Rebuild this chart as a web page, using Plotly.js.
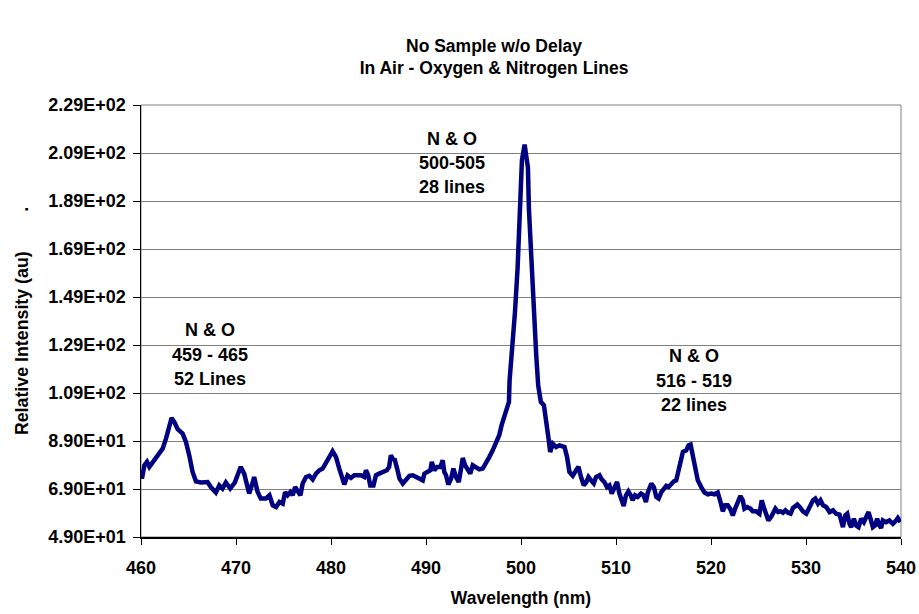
<!DOCTYPE html>
<html>
<head>
<meta charset="utf-8">
<script src="https://cdn.plot.ly/plotly-3.0.1.min.js"></script>
<style>html,body{margin:0;padding:0;background:#fff;}#chart{width:919px;height:614px;}</style>
</head>
<body>
<div id="chart"></div>
<script>
// Wavelength (nm)
const wavelength = [
460.00,460.10,460.36,460.63,460.88,461.23,461.58,461.93,462.28,462.63,462.98,463.22,463.51,463.86,464.38,464.73,465.08,465.43,465.78,466.30,
467.01,467.35,467.88,468.24,468.58,468.93,469.39,469.87,470.16,470.50,470.86,471.21,471.39,471.73,471.91,472.26,472.61,473.13,
473.52,473.87,474.22,474.57,474.92,475.17,475.44,475.72,475.97,476.22,476.49,476.78,477.02,477.37,477.72,478.07,478.42,478.77,479.12,479.47,479.82,480.17,
480.53,480.87,481.22,481.40,481.74,482.10,482.45,482.79,483.15,483.50,483.68,483.92,484.13,484.47,484.73,485.07,485.53,485.88,486.12,486.30,486.58,
486.68,486.96,487.21,487.56,487.91,488.26,488.61,488.96,489.31,489.66,489.83,490.19,490.46,490.61,490.88,491.17,491.51,491.76,491.93,492.11,492.35,492.64,
492.88,493.16,493.45,493.69,493.87,494.11,494.39,494.66,494.92,495.26,495.61,495.97,496.31,496.66,497.02,497.36,497.71,497.96,498.24,498.52,
498.73,498.80,499.12,499.36,499.64,499.88,500.10,500.38,500.73,500.83,501.07,501.32,501.60,501.81,502.09,502.41,502.65,502.90,503.07,503.35,503.70,504.06,
504.58,504.85,505.10,505.45,505.80,506.05,506.32,506.61,506.85,507.10,507.37,507.66,507.90,508.26,508.50,508.78,509.05,509.31,509.55,509.83,510.11,510.36,
510.60,510.81,511.05,511.30,511.58,511.75,512.00,512.28,512.63,512.91,513.15,
513.36,513.72,513.99,514.24,514.49,514.77,515.04,515.29,515.54,515.82,516.09,516.34,516.59,516.80,517.04,517.39,517.64,517.85,518.09,518.34,518.61,518.97,
519.32,519.66,520.02,520.37,520.71,521.00,521.24,521.49,521.76,522.05,522.29,522.54,522.82,523.10,523.34,523.52,523.80,524.15,524.39,524.75,525.10,525.34,
525.55,525.80,526.04,526.32,526.60,
526.78,527.06,527.33,527.58,527.83,528.11,528.38,528.63,528.88,529.09,529.33,529.68,530.03,530.38,530.74,530.98,531.26,531.53,531.79,532.13,532.48,532.84,
533.18,533.53,533.71,533.89,534.13,534.34,534.58,534.76,535.04,535.28,535.53,535.81,536.09,536.33,536.58,536.79,537.04,537.28,537.49,537.73,537.91,538.09,
538.43,538.78,539.14,539.48,539.66,539.94
];
// Relative intensity (au)
const intensity = [
75.4,73.3,78.9,80.3,78.2,80.3,81.7,84.4,85.8,90.0,95.6,98.6,96.9,93.9,92.1,88.6,83.0,76.1,72.2,71.7,
71.9,69.8,67.5,70.5,69.2,71.7,69.2,71.7,74.7,78.2,75.4,70.5,67.1,71.3,74.0,68.0,65.0,65.0,
66.4,62.2,61.5,63.6,62.9,67.7,66.4,67.7,66.4,69.8,68.4,66.4,71.3,74.0,74.5,73.0,75.4,76.8,77.5,79.6,82.3,84.7,
82.3,77.5,72.6,70.9,74.7,73.6,74.7,74.5,74.7,74.0,76.8,74.7,70.5,70.5,74.7,75.4,76.1,76.8,78.2,83.0,81.0,
81.7,77.5,73.3,71.3,72.6,74.5,74.7,74.0,73.6,72.6,75.4,76.1,76.8,80.3,76.8,78.2,78.2,81.0,76.1,74.7,70.9,73.3,
77.5,74.0,71.9,77.5,81.9,78.9,76.8,75.4,78.9,78.2,77.2,77.5,79.6,82.3,85.1,87.9,91.4,95.6,99.7,104.0,
105.3,114.3,128.2,142.4,160.9,184.1,206.1,212.5,202.9,185.9,165.7,142.8,125.0,112.2,105.3,103.9,98.4,90.0,84.4,87.9,86.5,87.2,
86.5,82.3,76.1,74.5,76.8,78.2,74.0,70.5,71.7,74.0,72.6,71.3,74.0,74.7,73.0,71.9,69.8,70.5,67.1,69.2,71.9,67.1,
64.3,61.9,66.4,68.0,66.1,64.3,66.4,65.7,67.1,66.4,63.6,
67.7,71.3,69.8,65.7,65.0,67.7,69.2,70.3,69.8,71.3,72.2,72.6,76.8,81.7,84.4,85.1,87.2,87.5,83.0,76.8,72.6,69.8,
67.5,66.8,67.1,66.8,67.5,63.6,59.7,62.2,62.2,60.5,58.0,60.8,63.3,66.1,64.3,60.8,61.5,60.8,59.7,59.7,58.7,64.3,
61.5,58.0,55.9,57.3,60.1,
60.8,59.4,59.7,59.1,60.1,59.1,58.7,61.1,61.9,62.5,61.5,59.7,58.7,61.5,64.3,65.0,62.9,64.3,62.2,61.5,59.4,60.1,
58.7,58.3,55.9,53.1,58.0,58.7,54.5,53.1,56.6,53.8,53.1,56.6,55.2,57.3,59.4,56.6,53.1,53.8,56.6,53.8,52.8,55.9,
55.2,55.9,54.5,55.9,56.9,55.2
];
const yTickVals = [49,69,89,109,129,149,169,189,209,229];
const yTickText = ["4.90E+01","6.90E+01","8.90E+01","1.09E+02","1.29E+02","1.49E+02","1.69E+02","1.89E+02","2.09E+02","2.29E+02"];
const xTickVals = [460,470,480,490,500,510,520,530,540];
const xTickText = ["460","470","480","490","500","510","520","530","540"];

// annotation blocks: [x, y, text]
const peakLabels = [
  [467.25, 135.2, "N & O"],[467.25, 124.9, "459 - 465"],[467.25, 114.7, "52 Lines"],
  [492.75, 214.8, "N & O"],[492.75, 204.8, "500-505"],[492.75, 194.8, "28 lines"],
  [518.25, 124.3, "N & O"],[518.25, 113.9, "516 - 519"],[518.25, 103.9, "22 lines"]
];

const F = "Liberation Sans, Arial, sans-serif";
const b = s => '<b>' + s + '</b>';
const annotations = peakLabels.map(p => ({
  x: p[0], y: p[1], xref: 'x', yref: 'y', text: b(p[2]), showarrow: false,
  font: {family: F, size: 18, color: '#000'}, xanchor: 'center', yanchor: 'middle'
}));

const trace = {
  x: wavelength, y: intensity, type: 'scatter', mode: 'lines',
  line: {color: '#000080', width: 4.5}, hoverinfo: 'skip'
};

const layout = {
  width: 919, height: 614,
  margin: {l: 141, r: 18, t: 105, b: 77},
  paper_bgcolor: '#fff', plot_bgcolor: '#fff',
  showlegend: false,
  font: {family: F, color: '#000'},
  title: {
    text: b('No Sample w/o Delay<br>In Air - Oxygen & Nitrogen Lines'),
    font: {family: F, size: 17.5, color: '#000'},
    xref: 'paper', x: 0.4645, xanchor: 'center',
    yref: 'container', y: 0.916, yanchor: 'top'
  },
  xaxis: {
    range: [460, 540], tickvals: xTickVals, ticktext: xTickText.map(b), ticks: 'outside', ticklen: 6, tickwidth: 1, tickcolor: '#000',
    ticklabelstandoff: 8,
    showline: true, linecolor: '#000', linewidth: 1.5, showgrid: false, zeroline: false,
    tickfont: {family: F, size: 18, color: '#000'},
    title: {text: b('Wavelength (nm)'), font: {family: F, size: 17.5, color: '#000'}, standoff: 14}
  },
  yaxis: {
    range: [49, 229], tickvals: yTickVals, ticktext: yTickText.map(b), ticks: 'outside', ticklen: 7, tickwidth: 1, tickcolor: '#000',
    ticklabelstandoff: 3,
    showline: true, linecolor: '#000', linewidth: 1.5, showgrid: true, gridcolor: '#808080', gridwidth: 1, zeroline: false,
    tickfont: {family: F, size: 18, color: '#000'},
    title: {text: b('Relative Intensity (au)' + '&nbsp;'.repeat(8) + '.'), font: {family: F, size: 17.8, color: '#000'}, standoff: 15}
  },
  shapes: [{type: 'rect', xref: 'paper', yref: 'paper', x0: 0, y0: 0, x1: 1, y1: 1,
    line: {color: '#808080', width: 1}, layer: 'below'}],
  annotations: annotations
};

Plotly.newPlot('chart', [trace], layout, {displayModeBar: false, staticPlot: true});
</script>
</body>
</html>
